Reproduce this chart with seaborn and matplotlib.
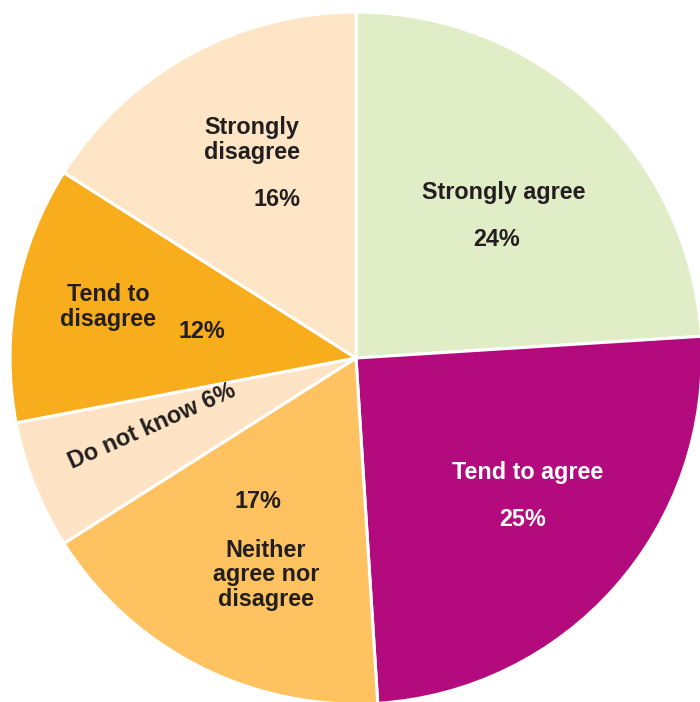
import matplotlib
matplotlib.use("Agg")
import matplotlib.pyplot as plt
import seaborn as sns

# Survey responses, share of respondents (%)
categories = ["Strongly agree", "Tend to agree", "Neither agree nor disagree",
              "Do not know", "Tend to disagree", "Strongly disagree"]
shares = [24, 25, 17, 6, 12, 16]
colors = ["#e1edc6", "#b30b7e", "#fec260", "#fee4c4", "#f8ad1d", "#fde5c5"]

sns.set_theme(style="white")
plt.rcParams["font.family"] = ["Liberation Sans", "DejaVu Sans"]

fig = plt.figure(figsize=(7.0, 7.02), dpi=100)
# pie centre at pixel (356, 358), radius 346 px
cx, cy, r = 356, 358, 346
W, H = 700, 702
ax = fig.add_axes([(cx - r) / W, (H - cy - r) / H, 2 * r / W, 2 * r / H])

ax.pie(shares, colors=colors, startangle=90, counterclock=False, radius=1,
       wedgeprops=dict(edgecolor="white", linewidth=2.2))
ax.set_xlim(-1, 1)
ax.set_ylim(-1, 1)
ax.set_aspect("equal")
ax.axis("off")


def px(x, y):
    return (x - cx) / r, (cy - y) / r


dark = "#231f20"
fs = 16.8
label_specs = [
    # text, pixel position, colour, rotation
    ("Strongly agree", (504, 193), dark, 0),
    (f"{shares[0]}%", (497, 239), dark, 0),
    ("Tend to agree", (528, 472), "white", 0),
    (f"{shares[1]}%", (523, 519), "white", 0),
    (f"{shares[2]}%", (258, 501), dark, 0),
    ("Neither\nagree nor\ndisagree", (266, 575), dark, 0),
    (f"Do not know {shares[3]}%", (152, 426), dark, 24),
    ("Tend to\ndisagree", (108, 307), dark, 0),
    (f"{shares[4]}%", (202, 331), dark, 0),
    ("Strongly\ndisagree", (252, 140), dark, 0),
    (f"{shares[5]}%", (277, 200), dark, 0),
]
for text, (x, y), c, rot in label_specs:
    ax.text(*px(x, y), text, ha="center", va="center", color=c,
            fontsize=fs, fontweight="bold", rotation=rot,
            linespacing=1.1, rotation_mode="anchor")

fig.savefig("out.png", dpi=100, facecolor="white")
